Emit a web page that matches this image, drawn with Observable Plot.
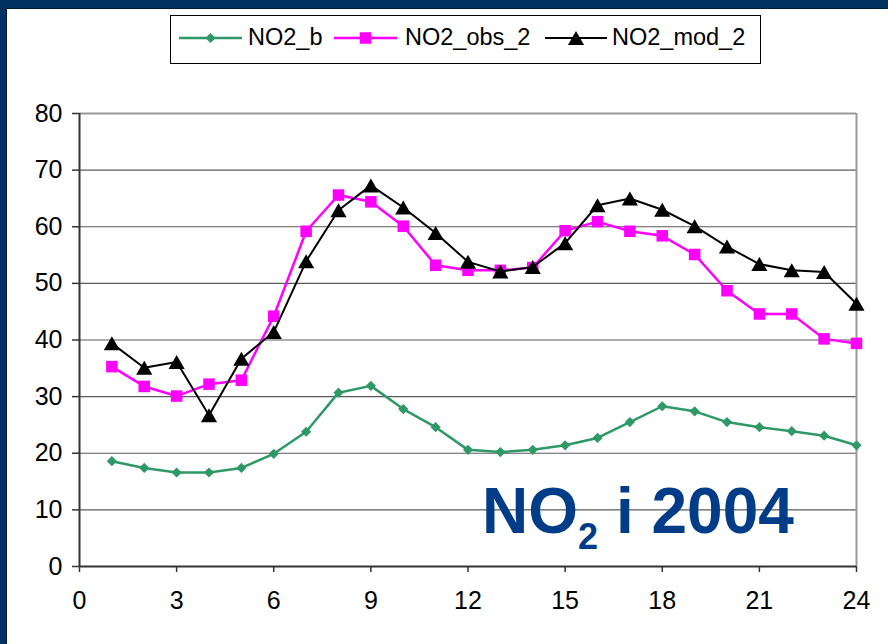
<!DOCTYPE html>
<html>
<head>
<meta charset="utf-8">
<script src="https://cdn.jsdelivr.net/npm/d3@7"></script>
<script src="https://cdn.jsdelivr.net/npm/@observablehq/plot@0.6"></script>
<style>
  html, body { margin: 0; padding: 0; }
  body { background: #02325f; width: 888px; height: 644px; overflow: hidden; position: relative; }
  #card { position: absolute; left: 7px; top: 9px; width: 881px; height: 635px; background: #fff;
          box-shadow: -1px -1px 0 #001a33; }
  #chart { position: absolute; left: 0; top: 0; }
</style>
</head>
<body>
<div id="card"></div>
<div id="chart"></div>
<script>
// Hourly NO2 concentrations (hour of day 1–24)
const hours = [1, 2, 3, 4, 5, 6, 7, 8, 9, 10, 11, 12, 13, 14, 15, 16, 17, 18, 19, 20, 21, 22, 23, 24];
const no2B = [18.6, 17.4, 16.6, 16.6, 17.4, 19.9, 23.8, 30.7, 31.9, 27.8, 24.6, 20.6,
              20.2, 20.6, 21.4, 22.7, 25.5, 28.3, 27.4, 25.5, 24.6, 23.9, 23.1, 21.4];
const no2Obs2 = [35.3, 31.8, 30.1, 32.2, 32.9, 44.2, 59.2, 65.6, 64.4, 60.1, 53.2, 52.3,
                 52.3, 52.8, 59.3, 60.9, 59.2, 58.4, 55.1, 48.7, 44.6, 44.6, 40.2, 39.4];
const no2Mod2 = [39.4, 35.1, 36.1, 26.7, 36.7, 41.4, 53.9, 62.9, 67.3, 63.4, 58.9, 53.8,
                 52.1, 52.9, 57.1, 63.8, 65.0, 63.0, 60.1, 56.5, 53.4, 52.3, 52.0, 46.4];

const seriesNames = ["NO2_b", "NO2_obs_2", "NO2_mod_2"];
const xTicks = [0, 3, 6, 9, 12, 15, 18, 21, 24];
const yTicks = [0, 10, 20, 30, 40, 50, 60, 70, 80];
const title = {main: "NO", sub: "2", rest: " i 2004"};

const FONT = "'Liberation Sans', Arial, sans-serif";
const styles = [
  {color: "#2e9966", symbol: "diamond2", r: 4.6, width: 2.5},
  {color: "#ff00ff", symbol: "square", r: 6.5, width: 2.5},
  {color: "#000000", symbol: "triangle", r: 6.0, width: 2}
];
const d3Symbols = {diamond2: d3.symbolDiamond2, square: d3.symbolSquare, triangle: d3.symbolTriangle};

const table = (vals) => hours.map((h, i) => ({hour: h, value: vals[i]}));
const data = [table(no2B), table(no2Obs2), table(no2Mod2)];

const seriesMarks = data.flatMap((d, i) => [
  Plot.line(d, {x: "hour", y: "value", stroke: styles[i].color, strokeWidth: styles[i].width}),
  Plot.dot(d, {x: "hour", y: "value", symbol: () => styles[i].symbol, r: styles[i].r,
               fill: styles[i].color, stroke: "none", dy: styles[i].symbol === "triangle" ? 2.3 : 0})
]);

const plot = Plot.plot({
  width: 888,
  height: 644,
  marginLeft: 79,
  marginRight: 32,
  marginTop: 113,
  marginBottom: 78,
  style: {background: "transparent", fontFamily: FONT, fontSize: "24px", color: "#000"},
  x: {domain: [0, 24]},
  y: {domain: [0, 80]},
  symbol: {type: "identity"},
  marks: [
    Plot.gridY(yTicks.filter(t => t > 0 && t < 80), {stroke: "#5a5a5a", strokeOpacity: 1, strokeWidth: 1.2}),
    Plot.ruleY([80], {stroke: "#9a9a9a", strokeWidth: 2}),
    Plot.ruleX([24], {stroke: "#9a9a9a", strokeWidth: 2}),
    Plot.ruleX([0], {stroke: "#333", strokeWidth: 2}),
    Plot.ruleY([0], {stroke: "#333", strokeWidth: 2}),
    Plot.axisY({ticks: yTicks, tickSize: 7, tickPadding: 10, label: null, stroke: "#333", strokeWidth: 1.5}),
    Plot.axisX({ticks: xTicks, tickSize: 6, tickPadding: 19, label: null, stroke: "#333", strokeWidth: 1.5}),
    ...seriesMarks
  ]
});

document.getElementById("chart").appendChild(plot);
const svg = d3.select(plot);

// Tick labels at the chart's reading size (only axis text exists at this point)
svg.selectAll("g").filter(function () { return this.getAttribute("font-size"); }).attr("font-size", null);
svg.selectAll("text").attr("font-size", null).style("font-size", "25px").style("font-family", FONT);

// Legend box at the top
const legend = svg.append("g");
legend.append("rect").attr("x", 170.5).attr("y", 15.5).attr("width", 590).attr("height", 48)
  .attr("fill", "#fff").attr("stroke", "#000").attr("stroke-width", 1);
const legendItems = [
  {x0: 179, x1: 242, tx: 248},
  {x0: 334, x1: 397, tx: 405},
  {x0: 545, x1: 607, tx: 612}
];
const ly = 38;
legendItems.forEach((it, i) => {
  const s = styles[i];
  legend.append("line").attr("x1", it.x0).attr("x2", it.x1).attr("y1", ly).attr("y2", ly)
    .attr("stroke", s.color).attr("stroke-width", s.width);
  const size = Math.PI * s.r * s.r;
  legend.append("path").attr("d", d3.symbol(d3Symbols[s.symbol], size)())
    .attr("transform", `translate(${(it.x0 + it.x1) / 2},${ly + (s.symbol === "triangle" ? 2.3 : 0)})`)
    .attr("fill", s.color);
  legend.append("text").attr("x", it.tx).attr("y", 44.5)
    .style("font-family", FONT).style("font-size", "23.5px").style("text-anchor", "start")
    .attr("fill", "#000").text(seriesNames[i]);
});

// Big annotation inside the plot area
const xs = plot.scale("x"), ys = plot.scale("y");
const note = svg.append("text")
  .attr("x", xs.apply(12.45)).attr("y", ys.apply(5.8))
  .style("font-family", FONT).style("text-anchor", "start")
  .style("font-weight", "bold").style("font-size", "64px").attr("fill", "#003c87");
note.append("tspan").text(title.main);
note.append("tspan").style("font-size", "36px").attr("dy", 16).text(title.sub);
note.append("tspan").attr("dy", -16).text(title.rest);
</script>
</body>
</html>
